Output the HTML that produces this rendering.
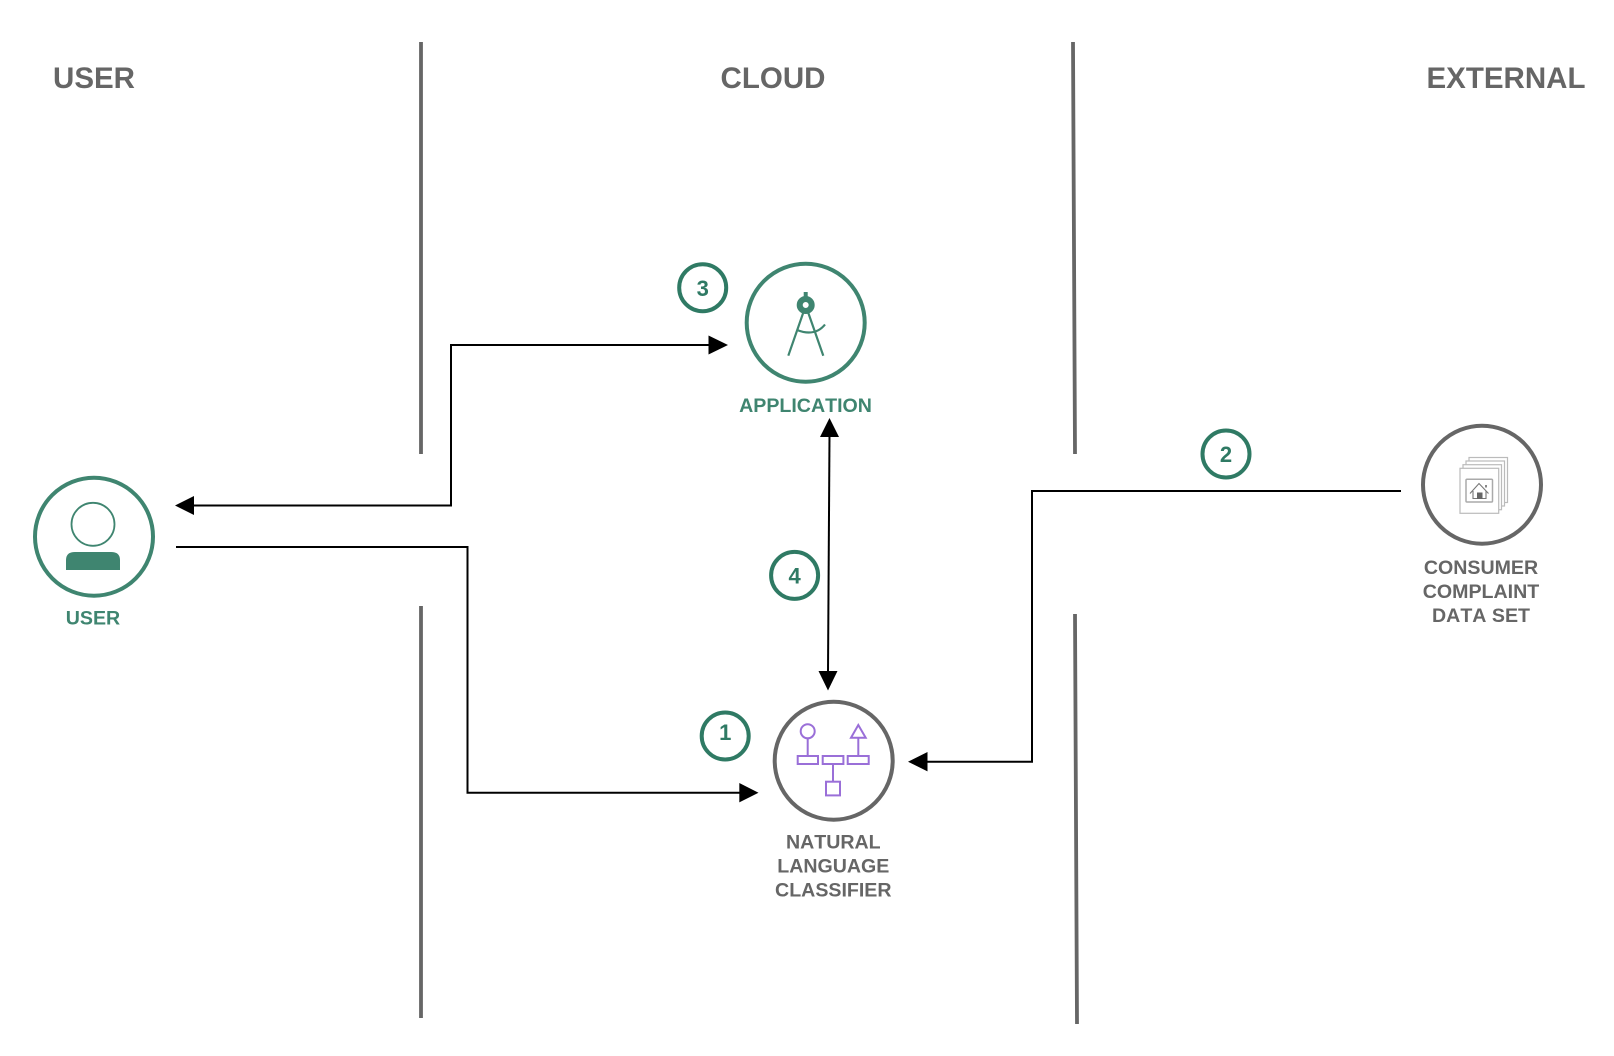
<!DOCTYPE html>
<html><head><meta charset="utf-8"><style>
html,body{margin:0;padding:0;background:#fff}
svg{display:block}
text{font-family:"Liberation Sans",Arial,sans-serif;font-weight:bold;text-anchor:middle}
.h{font-size:29.5px;fill:#666}
.l{font-size:19.6px;fill:#666;font-kerning:none}
.g{fill:#3f8570}
.n{font-size:22px;fill:#2f7a64}
.b{fill:#fff;stroke:#2f7a64;stroke-width:4}
.c{fill:none;stroke:#000;stroke-width:2}
</style></head><body>
<svg width="1614" height="1056" viewBox="0 0 1614 1056" xmlns="http://www.w3.org/2000/svg">
<rect width="1614" height="1056" fill="#fff"/>
<g stroke="#666" stroke-width="3.8" fill="none">
<path d="M421 42V454M421 606V1018"/>
<path d="M1073 42L1075 454M1075 614L1077 1024"/>
</g>
<text class="h" x="94" y="88">USER</text>
<text class="h" x="773" y="88">CLOUD</text>
<text class="h" x="1506" y="88">EXTERNAL</text>

<path class="c" d="M193 505.5H451V345H709"/>
<path class="c" d="M176 547H467.5V792.7H740"/>
<path class="c" d="M1401 491H1032V761.7H927"/>
<path class="c" d="M829.5 435L828 672"/>
<g fill="#000">
<path d="M175 505.5L194 496V515Z"/>
<path d="M728 345L708.500 335.500V354.500Z"/>
<path d="M758.500 792.700L739.300 783V802.400Z"/>
<path d="M908 761.700L927.500 752V771.400Z"/>
<path d="M829.500 418L839 437H820Z"/>
<path d="M828 690.500L818.500 671H837.500Z"/>
</g>

<circle cx="94" cy="536.700" r="59" fill="#fff" stroke="#3f8570" stroke-width="4"/>
<circle cx="93" cy="524.300" r="21.500" fill="none" stroke="#3f8570" stroke-width="1.800"/>
<path d="M66 570V560Q66 552 75 552H111Q120 552 120 560V570Z" fill="#3f8570"/>
<text class="l g" x="93" y="624.700">USER</text>

<circle cx="805.700" cy="322.700" r="59" fill="#fff" stroke="#3f8570" stroke-width="4"/>
<g stroke="#3f8570" fill="none">
<path d="M805.700 292V300" stroke-width="4"/>
<circle cx="805.700" cy="305" r="6" stroke-width="6"/>
<path d="M803.500 312L788.300 355.700M808 312L823.300 355.700" stroke-width="2.200"/>
<path d="M797 330Q815 337 825 324.500" stroke-width="2.200"/>
</g>
<text class="l g" x="805.500" y="412">APPLICATION</text>

<circle cx="833.700" cy="760.700" r="59" fill="#fff" stroke="#666" stroke-width="4"/>
<g stroke="#9a6fd8" stroke-width="2" fill="none">
<circle cx="807.700" cy="731.300" r="7"/>
<path d="M807.700 738.300V756M858.300 737.700V756M833 764V781.700"/>
<path d="M858.300 725L851 737.700H865.700Z"/>
<rect x="797.700" y="756" width="20.300" height="8"/>
<rect x="822.700" y="756" width="20.700" height="8"/>
<rect x="847.700" y="756" width="21" height="8"/>
<rect x="826" y="781.700" width="14" height="13.700"/>
</g>
<text class="l" x="833.300" y="848.700">NATURAL</text>
<text class="l" x="833.300" y="872.700">LANGUAGE</text>
<text class="l" x="833.300" y="896.700">CLASSIFIER</text>

<circle cx="1482" cy="484.700" r="59" fill="#fff" stroke="#666" stroke-width="4"/>
<g stroke="#bbb" stroke-width="1.200" fill="#fff">
<rect x="1469" y="457.500" width="38.500" height="45"/>
<rect x="1466" y="461" width="38.500" height="45"/>
<rect x="1463" y="464.700" width="38.500" height="45"/>
<rect x="1460" y="468.300" width="38.700" height="45"/>
</g>
<rect x="1466" y="479.300" width="26.500" height="22.700" rx="1" fill="none" stroke="#aaa" stroke-width="1.500"/>
<path d="M1470 493.500L1479 483.500L1488.500 493.500M1473 491V498.500H1486V491" fill="none" stroke="#777" stroke-width="1.100"/>
<rect x="1477" y="492.500" width="5.500" height="6.500" fill="#666"/>
<rect x="1485" y="485" width="2" height="2.500" fill="#888"/>
<text class="l" x="1481" y="574">CONSUMER</text>
<text class="l" x="1481" y="598">COMPLAINT</text>
<text class="l" x="1481" y="622">DATA SET</text>

<circle class="b" cx="725.200" cy="736" r="23.500"/>
<text class="n" x="725.200" y="740">1</text>
<circle class="b" cx="1226" cy="454" r="23.500"/>
<text class="n" x="1226" y="462">2</text>
<circle class="b" cx="702.700" cy="287.700" r="23.500"/>
<text class="n" x="702.700" y="296">3</text>
<circle class="b" cx="794.600" cy="575.400" r="23.500"/>
<text class="n" x="794.600" y="583.500">4</text>
</svg>
</body></html>
